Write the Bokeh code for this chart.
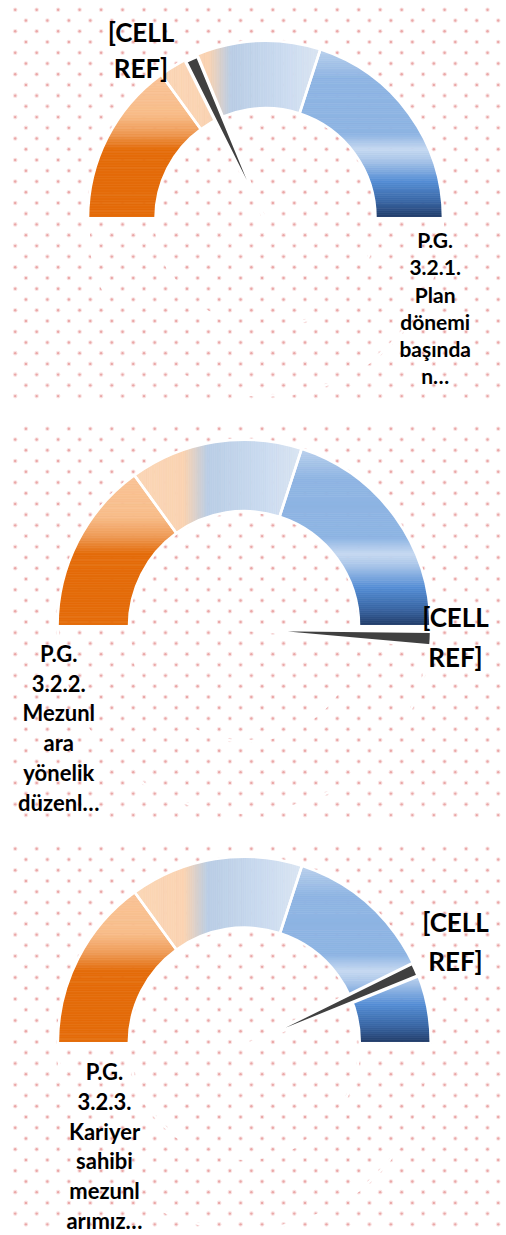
import numpy as np
from bokeh.plotting import figure
from bokeh.models import Range1d
from bokeh.embed import file_html
from bokeh.resources import INLINE
from bokeh.core.properties import value

# ---------------- data ----------------
band_values = [30, 30, 40]            # % of the half circle: orange, peach/light-blue, blue
gauge_labels = [
    "P.G.\n3.2.1.\nPlan\ndönemi\nbaşında\nn…",
    "P.G.\n3.2.2.\nMezunl\nara\nyönelik\ndüzenl…",
    "P.G.\n3.2.3.\nKariyer\nsahibi\nmezunl\narımız…",
]
needle_values = [36.4, 101.6, 86.6]   # % of the half circle
needle_size = [4.2, 4.4, 4.2]         # degrees
needle_labels = ["[CELL\nREF]", "[CELL\nREF]", "[CELL\nREF]"]

# ---------------- layout (page pixels) ----------------
W, H = 506, 1235
def Y(py):
    return H - py

GAUGES = [
    dict(cx=265.0, cy=217.7, ro=177.5, ri=110.0, fs=21, lh=1.09, lab=(434.7, 226.5),
         nlab=(140.5, 15.5), nlh=1.13),
    dict(cx=243.5, cy=625.7, ro=186.5, ri=115.0, fs=22, lh=1.10, lab=(58.3, 639.5),
         nlab=(455.0, 600.0), nlh=1.27),
    dict(cx=243.8, cy=1042.7, ro=186.5, ri=115.5, fs=22, lh=1.10, lab=(104.0, 1057.8),
         nlab=(455.0, 905.0), nlh=1.22),
]
DOT_BLOCKS = [(9.3, 37, 0), (428.3, 37, 1), (848.3, 36, 0)]

STOPS_ORANGE = [(0.0, "#F9C397"), (0.27, "#F8BD8A"), (0.40, "#EF9C58"), (0.52, "#E46C0A"), (1.0, "#E46C0A")]
STOPS_MID = [(0.0, "#FBD6B6"), (0.30, "#FAD3B2"), (0.44, "#B9CDE5"), (0.75, "#C9DAEF"), (1.0, "#DAE5F2")]
STOPS_BLUE = [(0.0, "#BAD1EC"), (0.17, "#8EB4E3"), (0.50, "#8EB4E3"), (0.59, "#C6D9F1"),
              (0.66, "#A7C3E8"), (0.78, "#558ED5"), (0.90, "#3A67A5"), (1.0, "#1F3864")]
SEG_STYLE = [(STOPS_ORANGE, 1), (STOPS_MID, 0), (STOPS_BLUE, 1)]

def hex2rgb(h):
    return np.array([int(h[i:i + 2], 16) for i in (1, 3, 5)], float)

def interp(stops, t):
    t = min(max(t, 0.0), 1.0)
    for (t0, c0), (t1, c1) in zip(stops[:-1], stops[1:]):
        if t <= t1:
            f = 0 if t1 == t0 else (t - t0) / (t1 - t0)
            c = hex2rgb(c0) * (1 - f) + hex2rgb(c1) * f
            return "#%02x%02x%02x" % tuple(int(round(v)) for v in c)
    return stops[-1][1]

def clip(poly, axis, val, keep_greater):
    out = []
    n = len(poly)
    for i in range(n):
        cur, prev = poly[i], poly[i - 1]
        cin = cur[axis] >= val if keep_greater else cur[axis] <= val
        pin = prev[axis] >= val if keep_greater else prev[axis] <= val
        if cin:
            if not pin:
                t = (val - prev[axis]) / (cur[axis] - prev[axis])
                out.append(prev + t * (cur - prev))
            out.append(cur)
        elif pin:
            t = (val - prev[axis]) / (cur[axis] - prev[axis])
            out.append(prev + t * (cur - prev))
    return out

def sector(cx, cy, ri, ro, a0, a1, n=160):
    a = np.linspace(a0, a1, n)
    outer = np.c_[cx + ro * np.cos(a), cy + ro * np.sin(a)]
    inner = np.c_[cx + ri * np.cos(a[::-1]), cy + ri * np.sin(a[::-1])]
    return [p for p in np.vstack([outer, inner])]

p = figure(width=W, height=H, x_range=Range1d(0, W), y_range=Range1d(0, H),
           output_backend="svg", toolbar_location=None, x_axis_location=None,
           y_axis_location=None, min_border=0)
p.outline_line_color = None
p.grid.visible = False
p.background_fill_color = "white"

# dotted background
dxs, dys = [], []
for y0, nrows, par in DOT_BLOCKS:
    for r in range(nrows):
        py = y0 + r * 10.73
        x0 = 14.7 if (r + par) % 2 == 0 else 25.4
        for k in range(23):
            dxs.append(x0 + k * 21.47)
            dys.append(Y(py))
p.scatter(dxs, dys, size=4.6, fill_color="#F9E3E3", line_color=None)
p.scatter(dxs, dys, size=2.4, fill_color="#EAA7A7", line_color=None)

total = float(sum(band_values))
for gi, g in enumerate(GAUGES):
    cx, cy, ro, ri = g["cx"], Y(g["cy"]), g["ro"], g["ri"]
    # hidden lower half: white outline only
    p.annular_wedge(x=[cx], y=[cy], inner_radius=ri, outer_radius=ro, start_angle=np.pi,
                    end_angle=2 * np.pi, fill_color=None, line_color="white", line_width=2.5)
    bounds = np.pi - np.pi * np.concatenate([[0], np.cumsum(band_values)]) / total
    for si in range(len(band_values)):
        a_hi, a_lo = bounds[si], bounds[si + 1]
        stops, axis = SEG_STYLE[si]
        poly = sector(cx, cy, ri, ro, a_lo, a_hi)
        arr = np.array(poly)
        lo, hi = arr[:, axis].min(), arr[:, axis].max()
        nb = 90
        edges = np.linspace(lo, hi, nb + 1)
        xs, ys, cols = [], [], []
        for b in range(nb):
            pc = clip(poly, axis, edges[b], True)
            pc = clip(pc, axis, edges[b + 1], False) if pc else []
            if len(pc) < 3:
                continue
            pc = np.array(pc)
            mid = 0.5 * (edges[b] + edges[b + 1])
            t = (hi - mid) / (hi - lo) if axis == 1 else (mid - lo) / (hi - lo)
            xs.append(pc[:, 0]); ys.append(pc[:, 1]); cols.append(interp(stops, t))
        p.patches(xs, ys, fill_color=cols, line_color=cols, line_width=0.7)
    # white borders of the bands
    p.annular_wedge(x=[cx] * 3, y=[cy] * 3, inner_radius=ri, outer_radius=ro,
                    start_angle=list(bounds[1:]), end_angle=list(bounds[:-1]),
                    fill_color=None, line_color="white", line_width=2.6)
    # needle
    na = np.pi - np.pi * needle_values[gi] / total
    hw = np.radians(needle_size[gi]) / 2
    p.wedge(x=[cx], y=[cy - 3], radius=ro + 1, start_angle=[na - hw], end_angle=[na + hw],
            fill_color="#404040", line_color="white", line_width=3.3)
    # labels
    lx, ly = g["lab"]
    p.text(x=[lx], y=[Y(ly)], text=[gauge_labels[gi]], text_font=value("Lato"),
           text_font_style="bold", text_font_size="%dpx" % g["fs"], text_align="center",
           text_baseline="top", text_line_height=g["lh"], text_color="black")
    nx, ny = g["nlab"]
    p.text(x=[nx], y=[Y(ny)], text=[needle_labels[gi]], text_font=value("Lato"),
           text_font_style="bold", text_font_size="26px", text_align="center",
           text_baseline="top", text_line_height=g["nlh"], text_color="black")

open("out.html", "w").write(file_html(p, INLINE))
